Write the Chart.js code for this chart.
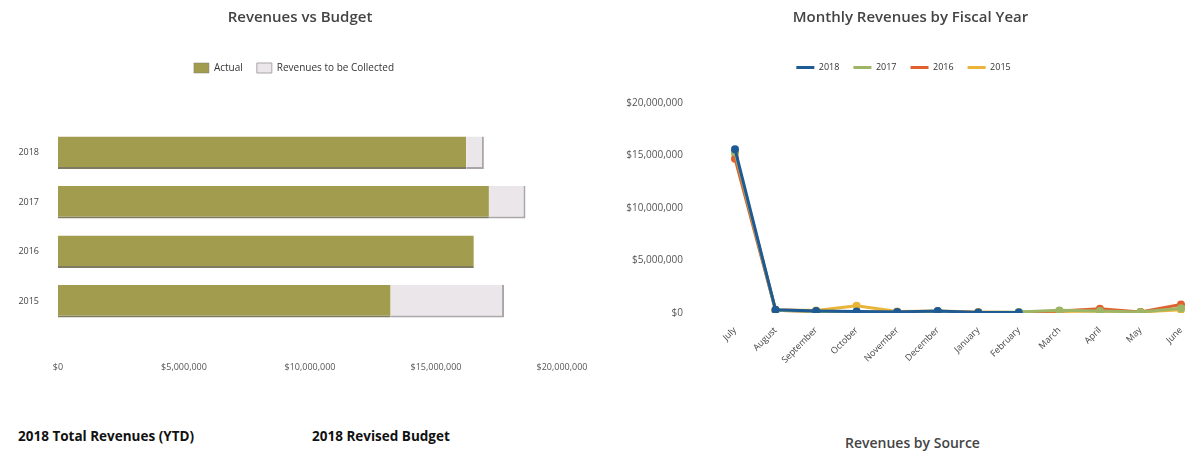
<!DOCTYPE html>
<html>
<head>
<meta charset="utf-8">
<script src="https://cdn.jsdelivr.net/npm/chart.js@4.4.1/dist/chart.umd.min.js"></script>
<style>
  html, body { margin: 0; padding: 0; background: #fff; }
  body { width: 1201px; height: 459px; position: relative; overflow: hidden; font-family: "Open Sans", sans-serif; }
  #budget-wrap { position: absolute; left: 0; top: 0; width: 600px; height: 390px; }
  #monthly-wrap { position: absolute; left: 600px; top: 0; width: 601px; height: 420px; }
  .caption { position: absolute; font-weight: 700; font-size: 13.5px; color: #111; white-space: nowrap; }
  .subtitle { position: absolute; font-weight: 600; font-size: 14px; color: #444; white-space: nowrap; }
</style>
</head>
<body>
<div id="budget-wrap"><canvas id="chart-budget"></canvas></div>
<div id="monthly-wrap"><canvas id="chart-monthly"></canvas></div>
<div class="caption" style="left:18px; top:427px;">2018 Total Revenues (YTD)</div>
<div class="caption" style="left:312px; top:427px;">2018 Revised Budget</div>
<div class="subtitle" style="left:845px; top:433px;">Revenues by Source</div>

<script>
// revenues vs budget (horizontal stacked bars)
var fiscalYears = ["2018", "2017", "2016", "2015"];
var actualRevenue = [16200000, 17100000, 16500000, 13200000];
var toBeCollected = [700000, 1450000, 0, 4500000];
var budgetTicks = [0, 5000000, 10000000, 15000000, 20000000];

// monthly revenues by fiscal year
var months = ["July", "August", "September", "October", "November", "December",
              "January", "February", "March", "April", "May", "June"];
var fy2018 = [15600000, 300000, 200000, 150000, 100000, 200000, 50000, 50000, null, null, null, null];
var fy2017 = [15300000, 250000, 150000, 100000, 100000, 150000, 50000, 100000, 250000, 200000, 100000, 450000];
var fy2016 = [14700000, 250000, 150000, 100000, 100000, 150000, 50000, 50000, 200000, 400000, 100000, 800000];
var fy2015 = [15200000, 300000, 250000, 700000, 150000, 200000, 100000, 50000, 150000, 200000, 100000, 300000];
var monthlyTicks = [0, 5000000, 10000000, 15000000, 20000000];

function money(v) {
    return "$" + Number(v).toLocaleString("en-US");
}

var tickFont = { size: 9, family: "Open Sans" };
var titleFont = { size: 15, weight: 600, family: "Open Sans" };

// adds empty space under the legend so the plot starts lower
function legendGap(px) {
    return {
        id: "legendGap",
        beforeInit: function (chart) {
            var fit = chart.legend.fit;
            chart.legend.fit = function () {
                fit.bind(chart.legend)();
                this.height += px;
            };
        }
    };
}

// nudges title and legend sideways (the dashboard centres them off the plot)
function headerShift(titleDx, legendDx) {
    return {
        id: "headerShift",
        afterLayout: function (chart) {
            if (chart.titleBlock) {
                chart.titleBlock.left += titleDx;
                chart.titleBlock.right += titleDx;
            }
            if (chart.legend) {
                chart.legend.left += legendDx;
                chart.legend.right += legendDx;
            }
        }
    };
}

function TestBudgetChart() {
    var ctx = document.getElementById("chart-budget").getContext("2d");

    new Chart(ctx, {
        type: "bar",
        data: {
            labels: fiscalYears,
            datasets: [{
                label: "Actual",
                data: actualRevenue,
                backgroundColor: "#A29D4E",
                borderColor: "#7f7b62",
                borderWidth: { top: 0, left: 0, right: 0, bottom: 2 },
                borderSkipped: false,
                barPercentage: 0.66,
                categoryPercentage: 1
            },
            {
                label: "Revenues to be Collected",
                data: toBeCollected,
                backgroundColor: "#EAE6EA",
                borderColor: "#a9a5a9",
                borderWidth: { top: 0, left: 0, right: 2, bottom: 2 },
                borderSkipped: false,
                barPercentage: 0.66,
                categoryPercentage: 1
            }]
        },
        options: {
            indexAxis: "y",
            responsive: true,
            maintainAspectRatio: false,
            animation: false,
            layout: { padding: 0 },
            plugins: {
                title: {
                    display: true,
                    text: "Revenues vs Budget",
                    color: "#444",
                    font: titleFont,
                    padding: { top: 9, bottom: 22 }
                },
                legend: {
                    display: true,
                    labels: {
                        boxWidth: 15,
                        boxHeight: 10,
                        color: "#333",
                        font: { size: 10, family: "Open Sans" },
                        padding: 14
                    }
                },
                tooltip: { enabled: false }
            },
            scales: {
                x: {
                    stacked: true,
                    min: 0,
                    max: 20000000,
                    afterBuildTicks: function (axis) {
                        axis.ticks = budgetTicks.map(function (v) { return { value: v }; });
                    },
                    afterFit: function (axis) {
                        axis.height = 64;
                        axis.paddingLeft = 0;
                        axis.paddingRight = 38;
                    },
                    grid: { display: false },
                    border: { display: false },
                    ticks: {
                        padding: 28,
                        color: "#555",
                        font: tickFont,
                        callback: function (v) { return money(v); }
                    }
                },
                y: {
                    stacked: true,
                    afterFit: function (axis) { axis.width = 58; },
                    grid: { display: false },
                    border: { display: false },
                    ticks: {
                        padding: 11,
                        color: "#444",
                        font: tickFont
                    }
                }
            }
        },
        plugins: [legendGap(45), headerShift(0, -6)]
    });
}

function TestMonthlyChart() {
    var ctx = document.getElementById("chart-monthly").getContext("2d");

    function series(label, data, color) {
        return {
            label: label,
            data: data,
            tension: 0,
            borderColor: color,
            backgroundColor: color,
            borderWidth: 3,
            pointRadius: 2.5,
            pointBackgroundColor: color,
            pointBorderColor: color,
            fill: false,
            spanGaps: false
        };
    }

    new Chart(ctx, {
        type: "line",
        data: {
            labels: months,
            datasets: [
                series("2018", fy2018, "#1E5A94"),
                series("2017", fy2017, "#9DB565"),
                series("2016", fy2016, "#E0602F"),
                series("2015", fy2015, "#E9B43A")
            ]
        },
        options: {
            responsive: true,
            maintainAspectRatio: false,
            animation: false,
            layout: { padding: { left: 0, right: 20, top: 0, bottom: 0 } },
            plugins: {
                title: {
                    display: true,
                    text: "Monthly Revenues by Fiscal Year",
                    color: "#444",
                    font: titleFont,
                    padding: { top: 9, bottom: 22 }
                },
                legend: {
                    display: true,
                    labels: {
                        usePointStyle: true,
                        pointStyle: "line",
                        pointStyleWidth: 18,
                        color: "#333",
                        font: { size: 9, family: "Open Sans" },
                        padding: 14
                    }
                },
                tooltip: { enabled: false }
            },
            scales: {
                y: {
                    min: 0,
                    max: 20000000,
                    afterBuildTicks: function (axis) {
                        axis.ticks = monthlyTicks.map(function (v) { return { value: v }; });
                    },
                    afterFit: function (axis) { axis.width = 135; },
                    grid: { display: false },
                    border: { display: false },
                    ticks: {
                        padding: 44,
                        color: "#555",
                        font: { size: 10, family: "Open Sans" },
                        callback: function (v) { return money(v); }
                    }
                },
                x: {
                    offset: false,
                    afterFit: function (axis) { axis.height = 107; },
                    grid: { display: false },
                    border: { display: false },
                    ticks: {
                        autoSkip: false,
                        minRotation: 45,
                        maxRotation: 45,
                        padding: 4,
                        color: "#444",
                        font: tickFont
                    }
                }
            }
        },
        plugins: [legendGap(21), headerShift(20, 13)]
    });
}

TestBudgetChart();
TestMonthlyChart();
</script>
</body>
</html>
